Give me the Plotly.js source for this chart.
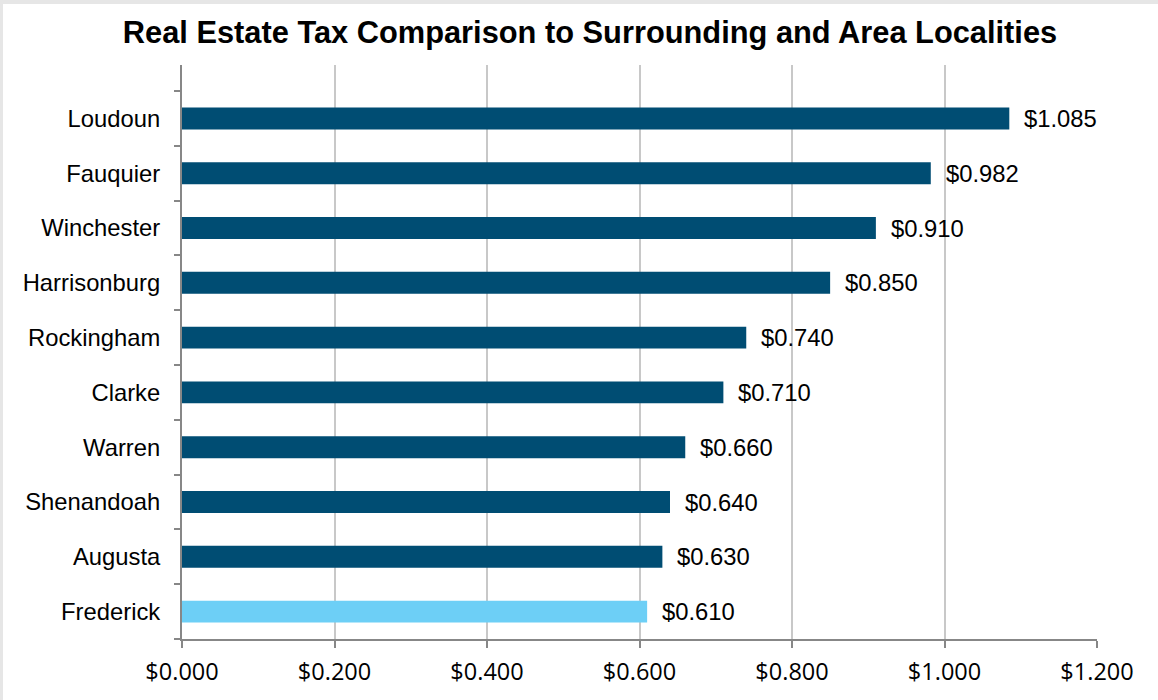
<!DOCTYPE html>
<html>
<head>
<meta charset="utf-8">
<script src="https://cdn.plot.ly/plotly-3.0.1.min.js"></script>
<style>
  html, body { margin: 0; padding: 0; background: #e6e6e6; width: 1158px; height: 700px; overflow: hidden; }
  #chart { position: absolute; left: 3px; top: 4px; width: 1155px; height: 696px; background: #ffffff; }
</style>
</head>
<body>
<div id="chart"></div>
<script>
// Data (bottom to top)
var localities = ["Frederick", "Augusta", "Shenandoah", "Warren", "Clarke", "Rockingham", "Harrisonburg", "Winchester", "Fauquier", "Loudoun"];
var taxRates = [0.610, 0.630, 0.640, 0.660, 0.710, 0.740, 0.850, 0.910, 0.982, 1.085];
var xTickVals = [0, 0.2, 0.4, 0.6, 0.8, 1.0, 1.2];

var darkBlue = "#004d73";
var lightBlue = "#6dcff6";
var barColors = localities.map(function (n) { return n === "Frederick" ? lightBlue : darkBlue; });

var trace = {
  type: "bar",
  orientation: "h",
  x: taxRates,
  y: localities,
  width: 0.4,
  marker: { color: barColors, line: { width: 0 } },
  hoverinfo: "skip"
};

var annotations = taxRates.map(function (v, i) {
  return {
    x: v, y: localities[i], xref: "x", yref: "y",
    text: "$" + v.toFixed(3),
    showarrow: false, xanchor: "left", yanchor: "middle",
    xshift: 13,
    font: { family: "Liberation Sans, Arial, sans-serif", size: 23.8, color: "#000000" }
  };
});

var layout = {
  width: 1155, height: 696,
  paper_bgcolor: "#ffffff", plot_bgcolor: "#ffffff",
  margin: { l: 179, r: 61, t: 61, b: 61, pad: 0 },
  showlegend: false,
  title: {
    text: "<b>Real Estate Tax Comparison to Surrounding and Area Localities</b>",
    font: { family: "Liberation Sans, Arial, sans-serif", size: 30.8, color: "#000000" },
    xref: "container", yref: "container",
    x: 0.5082, xanchor: "center",
    y: 0.96, yanchor: "middle"
  },
  xaxis: {
    range: [0, 1.2],
    tickvals: xTickVals,
    tickformat: "$.3f",
    showgrid: true, gridcolor: "#c8c8c8", gridwidth: 2,
    zeroline: false,
    showline: true, linecolor: "#878787", linewidth: 2,
    ticks: "outside", ticklen: 7, tickwidth: 2, tickcolor: "#878787",
    ticklabelstandoff: 4,
    tickfont: { family: "Open Sans, sans-serif", size: 23.5, color: "#000000" },
    fixedrange: true
  },
  yaxis: {
    type: "category",
    categoryorder: "array", categoryarray: localities,
    range: [-0.5, 9.975],
    tickson: "boundaries",
    showgrid: false, zeroline: false,
    showline: true, linecolor: "#878787", linewidth: 2,
    ticks: "outside", ticklen: 6, tickwidth: 2, tickcolor: "#878787",
    ticklabelstandoff: 15,
    tickfont: { family: "Liberation Sans, Arial, sans-serif", size: 23.8, color: "#000000" },
    fixedrange: true
  },
  annotations: annotations,
  bargap: 0.6
};

Plotly.newPlot("chart", [trace], layout, { displayModeBar: false, staticPlot: true });
</script>
</body>
</html>
